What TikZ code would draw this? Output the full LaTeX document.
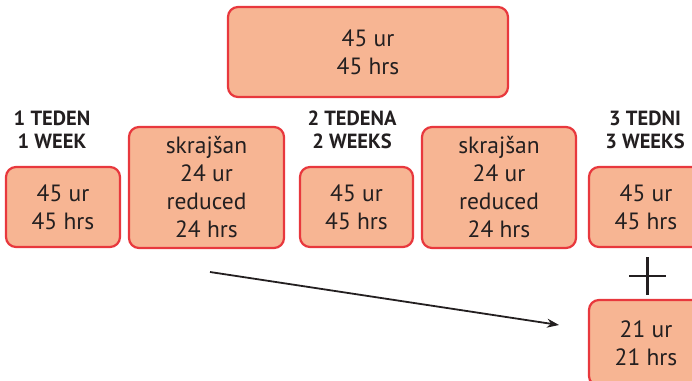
\documentclass[tikz,border=0pt]{standalone}
\usepackage{fontspec}
\setmainfont{PT Sans}
\usetikzlibrary{arrows.meta}
\definecolor{boxfill}{HTML}{F7B593}
\definecolor{boxline}{HTML}{E8383D}
\definecolor{ink}{HTML}{231F20}
\begin{document}
\begin{tikzpicture}[x=1pt,y=-1pt,
  hbox/.style={draw=boxline,fill=boxfill,line width=2.2pt,rounded corners=10pt,
    text=ink,font=\fontsize{23.5}{28}\selectfont,align=center,inner sep=0pt},
  head/.style={text=ink,font=\bfseries\fontsize{20.5}{23}\selectfont,align=center,inner sep=0pt}]
\useasboundingbox (0,0) rectangle (692,380);
\clip (0,0) rectangle (692,380);
\node[hbox,minimum width=280pt,minimum height=90pt] (top) at (368,52) {45 ur\\45 hrs};
\node[head] (h1) at (52,129.5) {1 TEDEN\\1 WEEK};
\node[head] (h2) at (352,129.5) {2 TEDENA\\2 WEEKS};
\node[head] (h3) at (645,129.5) {3 TEDNI\\3 WEEKS};
\node[hbox,minimum width=114pt,minimum height=80pt] (b1) at (63,207) {45 ur\\45 hrs};
\node[hbox,minimum width=155pt,minimum height=121pt] (s1) at (206.5,187.5) {skrajšan\\24 ur\\reduced\\24 hrs};
\node[hbox,minimum width=113pt,minimum height=80pt] (b2) at (356.5,207) {45 ur\\45 hrs};
\node[hbox,minimum width=154pt,minimum height=121pt] (s2) at (499,187.5) {skrajšan\\24 ur\\reduced\\24 hrs};
\node[hbox,minimum width=114pt,minimum height=80pt] (b3) at (646,207) {45 ur\\45 hrs};
\node[hbox,minimum width=114pt,minimum height=86pt] (b4) at (646,343) {21 ur\\21 hrs};
\coordinate (pl) at (629,276);
\coordinate (pr) at (666,276);
\coordinate (pt) at (647.5,257);
\coordinate (pb) at (647.5,295);
\draw[ink,line width=2.4pt] (pl) -- (pr) (pt) -- (pb);
\coordinate (a0) at (210,272);
\coordinate (a1) at (559,325);
\draw[ink,line width=1.8pt,-{Stealth[length=12pt,width=9pt]}] (a0) -- (a1);
\end{tikzpicture}
\end{document}
